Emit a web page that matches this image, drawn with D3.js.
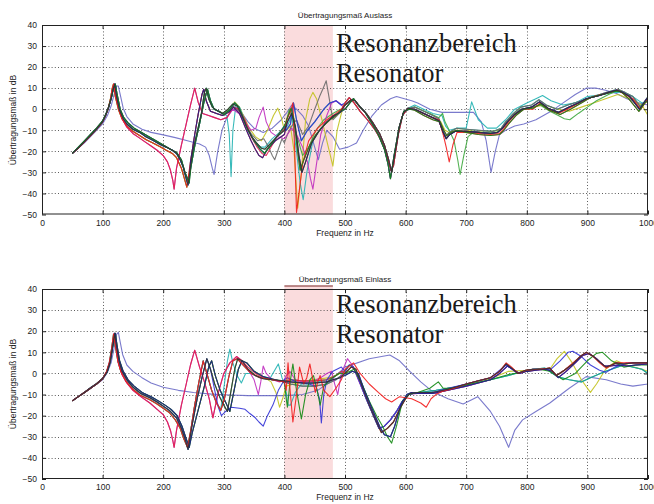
<!DOCTYPE html>
<html><head><meta charset="utf-8">
<script src="https://cdn.jsdelivr.net/npm/d3@7"></script>
<style>
html,body{margin:0;padding:0;background:#fff;}
svg{display:block;}
.tick text{font-family:"Liberation Sans",Arial,sans-serif;}
</style></head>
<body>
<svg id="chart" width="654" height="504"></svg>
<script>
// ---------- axis / labels ----------
const xTicks = [0,100,200,300,400,500,600,700,800,900,1000];
const yTicks = [40,30,20,10,0,-10,-20,-30,-40,-50];
const titleTop = "Übertragungsmaß Auslass";
const titleBottom = "Übertragungsmaß Einlass";
const xLabel = "Frequenz in Hz";
const yLabel = "Übertragungsmaß in dB";
const bandRange = [400, 480];
const bandText = ["Resonanzbereich", "Resonator"];
const colors = {black:"#333333", green:"#138a13", red:"#f21c1c", cyan:"#22b3b3", magenta:"#bf2cbf",
  yellow:"#c2c21e", gray:"#6a6a6a", blue:"#3232d6", lavender:"#6c6cc6", green2:"#3fa83f",
  crimson:"#e3204c", navy:"#1d1d8c", teal:"#1f9c8a"};

// ---------- Top panel (Auslass) segments [Hz, dB] ----------
const lowT1 = [[50,-21],[60,-18.5],[70,-15.5],[80,-12.5],[90,-9.5],[100,-6],[105,-3],[110,1],[114,5],[117,9],[120,12],[123,6],[128,-0.5],[134,-4.5],[140,-7],[150,-9.5],[161,-11],[170,-12.8],[183,-14.8],[195,-16.8],[205,-18],[215,-19.5],[222,-21],[228,-24],[233,-27.5],[238,-33],[241,-36]];
const lowT2 = [[50,-21],[60,-18.5],[70,-15.5],[80,-12.5],[90,-9.5],[100,-6],[104,-3.5],[109,0],[113,5],[116,10],[118,12],[121,6],[126,0],[132,-4.5],[140,-8],[150,-10.5],[161,-12.5],[172,-14.5],[183,-16],[195,-17.8],[205,-19.5],[215,-21],[222,-23],[230,-28],[235,-33],[239,-37]];
const lowT3 = [[50,-21],[60,-18],[70,-15],[80,-12],[90,-9],[100,-5.5],[105,-2.5],[110,1],[115,6],[118,10],[121,12],[124,7],[129,0],[135,-4],[142,-6.5],[152,-9],[163,-10.8],[175,-12.8],[188,-15],[200,-17],[212,-19],[222,-20.5],[230,-24],[236,-30],[243,-35]];
const lowOut = [[50,-21],[60,-18.5],[70,-15.5],[80,-12.5],[90,-9.5],[100,-6],[105,-3],[110,1],[113,4],[116,9],[119,12],[122,6],[127,0],[133,-5],[140,-8.5],[150,-11.5],[160,-13.5],[170,-15.5],[180,-17.5],[190,-19.5],[200,-22],[207,-25],[212,-29],[216,-34],[218,-38],[222,-28],[230,-17],[238,-7],[245,2],[252,10],[258,3],[265,-2],[275,-3],[285,-4],[295,-5],[305,-4]];
const lowBlue = [[50,-21],[60,-18.5],[70,-16],[80,-13],[90,-10],[100,-7],[108,-3],[114,1.5],[119,7],[123,11],[126,11],[129,7],[134,0.5],[140,-3.5],[150,-7],[165,-9.5],[180,-11],[200,-12.2],[220,-13.5],[240,-15],[260,-16.5],[270,-18],[276,-22],[281,-28],[284,-31],[290,-20],[297,-10],[305,-4],[312,-1]];

const midA = [[249,-19.5],[256,-11],[263,-2],[268,8],[271,10],[275,5],[281,1],[288,-0.5],[298,-2],[307,0],[315,2.5],[322,1.5],[330,-3],[337,-8],[346,-13],[354,-16],[362,-18.5],[368,-19],[378,-16],[388,-13],[400,-10]];
const midB = [[246,-27],[253,-16],[260,-7],[267,3],[273,9.5],[278,4],[284,0],[292,-1],[300,-2.5],[309,-0.5],[318,3],[325,1],[333,-5],[340,-10],[350,-15],[360,-19],[367,-21],[375,-18],[390,-12],[400,-8]];
const midC = [[245,-25],[252,-12],[258,-2],[264,7],[267,9.5],[271,4],[278,-1],[288,-2],[298,-3],[308,-1.5],[316,1],[326,-2],[336,-9],[345,-15],[352,-19],[358,-22],[364,-23],[372,-19],[385,-15],[400,-12]];
const midCyan = [[249,-19.5],[256,-11],[263,-2],[268,8],[271,10],[275,5],[281,1],[290,-1],[298,-2],[305,-3],[309,-12],[312,-32],[315,-10],[320,2],[326,1],[334,-5],[342,-11],[352,-16],[360,-18],[368,-18],[380,-14],[392,-11],[400,-9]];
const midYellow = [[246,-27],[253,-16],[260,-7],[267,3],[273,9.5],[278,4],[284,0],[292,-1],[300,-2],[310,0],[318,3.5],[326,1],[334,-4],[342,-9],[352,-13],[362,-15],[372,-10],[382,-3],[389,0.5],[395,-4],[400,-10]];
const midGray = [[245,-25],[252,-12],[258,-2],[264,7],[267,9.5],[271,4],[278,-1],[288,-2],[298,-3],[308,-1],[316,1.5],[326,-1],[336,-7],[346,-12],[356,-15],[366,-14],[374,-18],[380,-22],[384,-24],[390,-19],[396,-14],[400,-16]];
const midOutM = [[315,0],[325,-2],[335,-6],[345,-10],[353,-9],[358,-4],[365,1],[370,-6],[378,-11],[388,-13],[400,-14]];
const midOutR = [[315,1],[325,0],[335,-5],[345,-13],[355,-18],[363,-21],[370,-22],[380,-17],[390,-12],[400,-9]];
const midBlue = [[320,1],[330,-2],[340,-6],[350,-9],[365,-11],[380,-9],[395,-5],[400,-3]];

const bandMain1 = [[405,-4],[411,0.5],[416,-5],[421,-18],[426,-29],[432,-24],[442,-17],[452,-12],[464,-8],[475,-5],[483,-3.5],[492,-1]];
const bandMain2 = [[405,-6],[412,-2],[418,-8],[424,-22],[429,-30],[435,-25],[445,-16],[458,-10],[470,-6],[482,-3],[492,-1.5]];
const bandRed = [[404,-5],[410,-1],[414,3],[417,-20],[420,-49],[424,-40],[430,-26],[440,-15],[455,-9],[470,-5],[485,-2],[494,0]];
const bandYellow = [[403,-10],[410,-8],[416,-20],[422,-47],[428,-30],[435,-5],[442,5],[447,8],[453,5],[462,-5],[470,-15],[480,-27],[487,-10],[494,-2]];
const bandCyan = [[405,-8],[412,-3],[420,-20],[426,-35],[431,-43],[437,-30],[447,-15],[460,-9],[475,-5],[492,-1]];
const bandMagenta = [[405,-12],[412,-9],[420,-12],[430,-18],[438,-25],[443,-33],[447,-38],[452,-28],[460,-12],[470,-3],[478,3],[486,4],[494,2]];
const bandGray = [[405,-12],[412,-8],[420,-5],[430,-12],[440,-8],[450,0],[458,6],[464,10],[469,13.5],[474,5],[480,-5],[487,-3],[494,-1]];
const bandBlue1 = [[403,-2],[412,2],[420,0],[430,-3],[440,-8],[450,-18],[456,-24],[463,-16],[470,-10],[480,-13],[491,-19]];
const bandBlue2 = [[403,-10],[410,-7],[415,3],[420,-5],[428,-15],[438,-10],[450,-6],[465,0],[475,3],[485,4],[494,2]];
const bandGreen2 = [[403,-6],[408,0],[413,-4],[420,-12],[430,-22],[440,-18],[452,-10],[465,-5],[480,-2],[492,0]];

const postA = [[500,2],[510,4.5],[517,4],[525,1],[535,-2],[545,-6],[557,-11.5],[565,-17],[572,-24],[577,-30],[583,-20],[590,-8],[596,-2],[604,0.5]];
const postB = [[500,0],[508,3],[514,5],[522,2],[532,-1],[545,-7],[555,-12],[565,-19],[571,-26],[575,-33],[581,-22],[589,-9],[597,-1],[606,0]];
const postC = [[500,3],[507,5.5],[515,3],[525,-1],[537,-5],[550,-10],[562,-16],[570,-23],[576,-29],[580,-27],[588,-12],[595,-3],[603,0]];
const postLav = [[505,-18],[519,-16],[530,-10],[545,-3],[560,2],[575,5],[585,6],[598,5],[610,4]];

const tailA = [[615,0],[630,-2],[645,-4],[655,-5.5],[662,-11],[667,-14],[673,-12],[682,-10.5],[700,-10.5],[720,-11],[740,-11.5],[752,-11],[760,-9],[768,-6],[780,-2.5],[792,0],[808,1],[821,3.5],[835,0.5],[852,-1.5],[870,1],[885,3],[898,5],[920,6.5],[935,8],[948,9],[958,8],[970,6],[986,0],[998,5],[1000,5]];
const tailB = [[615,-0.5],[630,-3],[645,-5],[657,-6],[663,-10],[668,-12.5],[675,-11],[685,-10],[700,-11],[720,-12],[740,-12.5],[755,-12],[762,-10],[770,-7],[782,-3],[795,0],[810,0.5],[823,2.5],[837,-0.5],[855,-2.5],[872,0],[890,3],[905,5.5],[925,7],[945,8.5],[955,8.5],[968,5],[985,-1],[995,3],[1000,4]];
const tailC = [[615,1],[630,-1],[645,-3],[655,-4.5],[661,-9],[666,-13],[672,-11],[684,-9],[700,-9.5],[720,-10],[745,-10.5],[758,-9],[765,-6],[778,-2],[790,1],[808,2],[820,4.5],[832,2],[850,0],[868,2],[890,4],[910,6],[932,8],[950,9.5],[962,8],[975,6],[988,1],[1000,6]];
const tailRed = [[615,0],[630,-2],[645,-4],[655,-5],[662,-12],[667,-18],[672,-25],[678,-17],[685,-11],[700,-11],[720,-11.5],[740,-12],[755,-11.5],[763,-9],[770,-6],[782,-2],[795,0],[810,0],[822,3],[835,0],[852,-2],[870,0.5],[890,3.5],[910,6],[930,7.5],[950,9],[962,7],[975,5],[988,0],[1000,5]];
const tailCyan = [[615,2],[630,0],[645,-2],[660,-3],[666,-8],[672,-10],[685,-9],[700,-9],[709,3.5],[720,-5],[735,-9],[750,-9],[765,-5],[780,0],[800,3],[815,5],[826,6.5],[840,4],[860,2],[880,3],[900,6],[925,7],[945,8],[960,8],[975,6],[990,3],[1000,4]];
const tailYellow = [[615,0],[630,-2],[645,-4],[658,-6],[665,-10],[672,-11],[685,-10],[700,-10],[730,-11],[755,-10],[770,-5],[790,0],[810,1],[830,2],[850,0],[870,-1],[890,1],[910,3],[930,5],[950,7],[970,5],[990,2],[1000,-3]];
const tailGreen = [[615,1],[640,-2],[655,-4],[661,-2],[665,-6],[672,-10],[680,-15],[686,-24],[690,-31],[696,-22],[703,-13],[712,-11],[730,-11],[750,-11],[762,-8],[775,-3],[790,0],[808,1],[822,2],[838,-1],[852,-3],[862,-4.5],[871,-5],[885,-2],[900,1],[915,4],[935,7],[950,9],[965,7],[985,1],[1000,5]];
const tailLav = [[620,3],[640,0],[660,-1.5],[690,-1.5],[712,-1.5],[725,-6],[733,-15],[741,-30],[748,-20],[755,-12],[765,-10],[780,-8],[795,-7],[815,-5],[840,-1],[860,3],[880,7],[898,10],[915,10],[930,9],[948,7.5],[965,5],[985,3],[1000,2]];

// ---------- Bottom panel (Einlass) segments [Hz, dB] ----------
const lowE1 = [[50,-13],[60,-11],[70,-9],[80,-7],[90,-5],[100,-2.5],[107,0.5],[112,5],[116,12],[120,19],[123,13],[127,6],[132,1],[140,-3],[150,-6.5],[163,-9.5],[178,-11.5],[190,-13.5],[200,-15.5],[210,-17.5],[222,-21],[230,-26],[236,-31],[241,-36]];
const lowE2 = [[50,-13],[60,-11],[70,-9],[80,-7],[90,-5],[100,-2.5],[106,0.5],[111,5],[115,12],[118,18.5],[121,13],[125,6],[130,1],[138,-3.5],[150,-7.5],[163,-10.5],[178,-12.5],[190,-14.5],[200,-16.5],[210,-18.5],[220,-22],[228,-26],[234,-31],[240,-35]];
const lowE3 = [[50,-13],[60,-11],[70,-9],[80,-6.8],[90,-4.8],[100,-2.3],[108,1],[113,6],[117,13],[121,19],[124,13],[128,6],[134,1],[142,-3],[152,-6],[165,-9],[180,-11],[192,-13],[203,-15],[213,-17],[223,-20],[231,-25],[238,-31],[243,-35]];
const lowEOut = [[50,-13],[60,-11],[70,-9],[80,-7],[90,-5],[100,-2.5],[107,1],[112,6],[116,13],[119,19],[122,13],[126,5],[132,-0.5],[140,-4.5],[150,-8],[163,-11],[178,-14],[190,-17],[200,-19.5],[207,-23],[212,-27],[216,-32],[218,-35],[222,-27],[230,-15],[238,-5],[245,4],[252,11],[260,3],[268,-4],[276,-12],[282,-21],[290,-10],[300,0],[310,5],[321,8],[330,6]];
const lowEBlue = [[50,-13],[60,-11],[70,-9],[80,-7],[90,-5],[100,-3],[108,0.5],[114,5],[119,12],[123,18.5],[126,19.5],[129,15],[133,9],[140,4],[150,1],[165,-2],[180,-4.5],[200,-6.5],[225,-8],[250,-9],[280,-9.8],[310,-10.2],[340,-10.5],[370,-10.5],[400,-10.5],[430,-10],[455,-8],[470,-5],[500,3],[540,7],[574,8.7],[590,6],[607,1],[625,-4],[645,-8.7],[670,-12],[695,-14.5],[719,-11],[740,-18],[755,-25],[770,-35],[780,-27],[793,-22],[815,-18],[838,-14],[870,-7],[898,-1.5],[931,-3],[955,-5],[975,-6],[1000,-5]];

const midE1 = [[248,-24],[256,-12],[264,-2],[272,7],[278,2],[285,-5],[293,-11],[300,-15],[306,-18],[312,-8],[318,2],[323,7],[330,6],[340,2],[352,-1],[365,-2.5],[380,-3],[400,-3.5]];
const midE2 = [[246,-26],[252,-15],[259,-4],[266,6],[272,0],[280,-8],[288,-14],[295,-17.5],[301,-12],[308,-2],[315,6],[322,7],[332,4],[345,0],[360,-2],[380,-3],[400,-4]];
const midE3 = [[248,-28],[258,-17],[268,-6],[275,3],[280,6],[286,-1],[294,-8],[302,-13],[310,-18],[317,-8],[324,2],[330,6],[338,5],[350,1],[365,-1.5],[385,-3],[400,-4]];
const midECyan = [[246,-26],[252,-15],[259,-4],[266,6],[272,0],[280,-8],[288,-14],[295,-17],[301,-5],[306,6],[310,11.5],[315,5],[322,-1],[329,-4.5],[336,0],[345,0],[360,-2],[375,-3],[390,4.5],[396,-2],[400,-5]];
const midEYellow = [[248,-28],[258,-17],[268,-6],[275,3],[280,6],[286,-1],[294,-8],[302,-13],[310,-18],[317,-8],[324,2],[330,6],[338,5],[350,1],[365,-1.5],[378,-4],[386,-9],[392,-16],[397,-12]];
const midEOutM = [[340,2],[350,-3],[357,-10],[361,-4],[365,3.5],[370,0],[380,-3],[392,-4],[400,-3]];
const midEOutR = [[340,3],[352,0],[365,-2],[380,-3],[400,-4]];
const midEBlueDip = [[248,-24],[256,-12],[264,-2],[272,7],[278,2],[285,-8],[291,-16],[296,-20],[303,-18],[312,-16],[326,-16.5],[335,-17],[343,-19],[352,-21],[358,-23],[365,-25],[372,-20],[381,-15],[390,-8],[400,-3]];

const bandE1 = [[410,-4],[430,-4.5],[450,-4.5],[470,-4],[480,-3],[492,-2]];
const bandE2 = [[410,-3],[430,-3.5],[450,-3.5],[470,-3],[485,-1],[494,1]];
const bandE3 = [[410,-5],[430,-6],[450,-6],[470,-5],[485,-3],[494,-1]];
const bandERed = [[403,-8],[406,5],[410,-10],[414,-23],[420,-10],[425,3],[432,-5],[437,-2],[442,4.5],[447,-3],[451,-9],[455,-4],[459,-1],[465,-8],[475,-11],[485,-7],[494,-3]];
const bandEGreen = [[403,-12],[405,-16],[409,-5],[414,4.5],[420,-8],[428,-21.5],[435,-10],[442,-3],[448,-1],[454,-8],[459,-15],[465,-6],[475,-3],[490,0]];
const bandEBlue = [[405,-2],[420,-4],[440,-5],[452,-6],[458,-12],[461,-23.5],[465,-10],[470,-3],[480,1],[494,3]];
const bandEMag = [[403,-1],[409,1],[418,-3],[430,-4],[445,-4],[460,-2],[470,0],[478,1],[483,-5],[488,-10],[494,0]];
const bandECyan = [[403,-9],[406,-15],[410,-15],[418,-9],[428,-5],[440,-5],[455,-4],[470,-3],[485,-1],[494,1]];
const bandEYellow = [[403,-6],[415,-5],[430,-4],[445,-3],[460,-2.5],[475,-2],[492,0]];

const postE1 = [[500,0],[510,3],[518,2],[528,-6],[540,-15],[552,-23],[560,-28],[570,-26],[580,-23],[590,-17],[600,-12],[607,-9.5]];
const postE2 = [[500,1],[507,4],[514,3],[524,-4],[535,-12],[547,-20],[556,-26],[565,-25],[575,-22],[585,-18],[595,-13],[605,-10]];
const postE3 = [[500,-1],[512,1],[522,0],[532,-8],[545,-17],[557,-25],[565,-29],[575,-30],[582,-25],[592,-15],[602,-10],[610,-9]];
const postERed = [[500,2],[514,5],[525,0],[540,-5],[555,-9],[567,-12],[577,-13.5],[590,-11],[610,-12],[625,-14],[634,-16],[642,-12],[650,-10],[660,-8.5]];
const postEGreen = [[500,0],[515,2],[528,-5],[540,-13],[552,-20],[562,-25],[570,-30],[577,-33],[585,-25],[595,-13],[605,-10]];
const postEMag = [[504,7],[512,4],[522,-3],[535,-12],[547,-20],[556,-26],[565,-25],[575,-22],[585,-18],[595,-13],[605,-10]];

const tailE1 = [[620,-9],[645,-9],[670,-7.5],[700,-5],[720,-3.5],[740,-2],[755,1],[766,4.5],[775,2.5],[785,0],[798,1.5],[810,2],[825,2],[838,2.5],[849,-1],[862,1.5],[876,4.5],[888,8],[898,10],[910,8],[920,5.5],[931,3],[940,4],[947,5],[960,4.5],[975,5],[1000,5]];
const tailE2 = [[620,-9.5],[645,-9.5],[670,-8],[700,-6],[720,-4.5],[740,-3],[755,0],[768,3.5],[777,2],[788,0],[800,1],[815,1.5],[830,2],[842,1],[852,-2],[865,1],[880,5],[892,8.5],[903,9.5],[915,7],[928,3.5],[938,3.5],[950,4],[965,3.5],[980,4],[1000,4.5]];
const tailESmooth = [[620,-9],[650,-8],[680,-6.5],[710,-5],[740,-3],[770,-1],[795,1],[810,2],[830,2.5],[850,-1.5],[870,-3],[890,-4],[905,-2],[930,1],[960,4],[990,2],[1000,0]];
const tailEYellow = [[620,-9],[645,-9],[670,-7.5],[700,-5.5],[740,-2.5],[770,1],[800,1.5],[820,2],[838,2],[850,7],[862,10.5],[875,5],[890,-3],[905,-9],[915,-5],[930,2],[948,6],[965,4],[990,2],[1000,1]];
const tailEBlue2 = [[620,-9],[645,-9],[670,-7],[700,-5],[740,-2],[766,4],[785,0],[810,2],[840,2],[855,6],[868,10],[876,10.5],[890,8],[905,4],[920,1.5],[931,0.5],[945,3],[965,5],[1000,5]];
const tailEGreen = [[620,-9],[640,-7],[654,-4],[662,-7],[680,-7],[700,-5.5],[740,-3],[770,-0.5],[800,1],[820,2],[838,1],[860,-3],[880,0],[900,6],[915,9.5],[925,10],[940,6],[960,3],[980,4],[1000,4]];
const tailERed = [[680,-7],[700,-5],[720,-3.5],[740,-2],[755,1],[766,5],[775,3],[785,0],[800,1.5],[820,2],[838,2.5],[849,-1],[862,1.5],[876,5],[888,8],[898,10],[910,8],[920,5],[931,2.5],[947,5],[975,5],[1000,5]];

// ---------- series (colour, segments) ----------
const topSeries = [
  {c:"lavender", segs:[lowBlue, midBlue, bandBlue1, postLav, tailLav]},
  {c:"yellow",   segs:[lowT2, midYellow, bandYellow, postC, tailYellow]},
  {c:"cyan",     segs:[lowT1, midCyan, bandCyan, postA, tailCyan]},
  {c:"teal",     segs:[lowT1, midB, bandBlue2, postA, tailC]},
  {c:"green2",   segs:[lowT2, midA, bandGreen2, postB, tailGreen]},
  {c:"gray",     segs:[lowT3, midGray, bandGray, postA, tailC]},
  {c:"magenta",  segs:[lowOut, midOutM, bandMagenta, postB, tailA]},
  {c:"crimson",  segs:[lowOut, midOutR, bandMain1, postA, tailB]},
  {c:"blue",     segs:[lowT1, midB, bandBlue2, postC, tailA]},
  {c:"red",      segs:[lowT2, midC, bandRed, postC, tailRed]},
  {c:"navy",     segs:[lowT3, midC, bandMain2, postB, tailA]},
  {c:"green",    segs:[lowT3, midB, bandMain1, postB, tailB]},
  {c:"black",    segs:[lowT1, midA, bandMain2, postA, tailA]}
];
const bottomSeries = [
  {c:"lavender", segs:[lowEBlue]},
  {c:"yellow",   segs:[lowE1, midEYellow, bandEYellow, postE1, tailEYellow]},
  {c:"cyan",     segs:[lowE2, midECyan, bandECyan, postE3, tailESmooth]},
  {c:"teal",     segs:[lowE1, midE2, bandE3, postE2, tailESmooth]},
  {c:"green2",   segs:[lowE2, midE1, bandE2, postE2, tailE1]},
  {c:"gray",     segs:[lowE3, midE2, bandE3, postE3, tailE2]},
  {c:"magenta",  segs:[lowEOut, midEOutM, bandEMag, postEMag, tailE2]},
  {c:"crimson",  segs:[lowEOut, midEOutR, bandE2, postE1, tailE1]},
  {c:"blue",     segs:[lowE1, midEBlueDip, bandEBlue, postE2, tailEBlue2]},
  {c:"green",    segs:[lowE3, midE3, bandEGreen, postEGreen, tailEGreen]},
  {c:"navy",     segs:[lowE3, midE3, bandE1, postE3, tailE2]},
  {c:"red",      segs:[lowE2, midE2, bandERed, postERed, tailERed]},
  {c:"black",    segs:[lowE1, midE1, bandE1, postE1, tailE1]}
];

// ---------- drawing ----------
const svg = d3.select("#chart");
const x = d3.scaleLinear().domain([0,1000]).range([42,648]);
const FONT = '"Liberation Sans", Arial, Helvetica, sans-serif';

function panel(id, y, series, title, titleY, xLabY, yLabCY, bandTopExtra, textBase){
  const g = svg.append("g");
  const [y0, y1] = [y(40), y(-50)];
  const [x0, x1] = [x(0), x(1000)];
  g.append("clipPath").attr("id","clip"+id).append("rect")
    .attr("x",x0).attr("y",y0).attr("width",x1-x0).attr("height",y1-y0);
  // band
  g.append("rect").attr("x",x(bandRange[0])).attr("y",y0-bandTopExtra)
    .attr("width",x(bandRange[1])-x(bandRange[0])).attr("height",y1-y0+bandTopExtra)
    .attr("fill","#fadcdd");
  if(bandTopExtra>0){
    g.append("line").attr("x1",x(bandRange[0])).attr("x2",x(bandRange[1]))
      .attr("y1",y0-bandTopExtra+0.5).attr("y2",y0-bandTopExtra+0.5)
      .attr("stroke","#7a2a2a").attr("stroke-width",1);
  }
  // grid
  const grid = g.append("g").attr("stroke","#333").attr("stroke-width",0.8).attr("stroke-dasharray","1,2.2");
  xTicks.slice(1,-1).forEach(t=>grid.append("line").attr("x1",Math.round(x(t))+0.5).attr("x2",Math.round(x(t))+0.5).attr("y1",y0).attr("y2",y1));
  yTicks.slice(1,-1).forEach(t=>grid.append("line").attr("y1",Math.round(y(t))+0.5).attr("y2",Math.round(y(t))+0.5).attr("x1",x0).attr("x2",x1));
  // lines
  const line = d3.line().x(d=>x(d[0])).y(d=>y(d[1]));
  const lg = g.append("g").attr("clip-path","url(#clip"+id+")");
  series.forEach(s=>{
    const pts = [].concat(...s.segs);
    lg.append("path").attr("d",line(pts)).attr("fill","none")
      .attr("stroke",colors[s.c]).attr("stroke-width",1.1).attr("stroke-opacity",0.9)
      .attr("stroke-linejoin","round");
  });
  // frame
  g.append("rect").attr("x",x0+0.5).attr("y",y0+0.5).attr("width",x1-x0-1).attr("height",y1-y0-1)
    .attr("fill","none").attr("stroke","#222").attr("stroke-width",1);
  // axes (ticks inward)
  const ax = g.append("g").attr("transform",`translate(0,${y1})`)
    .call(d3.axisBottom(x).tickValues(xTicks).tickSize(-4).tickPadding(5).tickFormat(d3.format("d")));
  const axT = g.append("g").attr("transform",`translate(0,${y0})`)
    .call(d3.axisTop(x).tickValues(xTicks).tickSize(-4).tickFormat(""));
  const ay = g.append("g").attr("transform",`translate(${x0},0)`)
    .call(d3.axisLeft(y).tickValues(yTicks).tickSize(-4).tickPadding(5).tickFormat(d3.format("d")));
  const ayR = g.append("g").attr("transform",`translate(${x1},0)`)
    .call(d3.axisRight(y).tickValues(yTicks).tickSize(-4).tickFormat(""));
  [ax,axT,ay,ayR].forEach(a=>{
    a.select(".domain").remove();
    a.selectAll("line").attr("stroke","#222");
    a.selectAll("text").attr("font-size","8.5px").attr("font-family",FONT).attr("fill","#222");
  });
  // titles
  g.append("text").attr("x",(x0+x1)/2).attr("y",titleY).attr("text-anchor","middle")
    .attr("font-size","8px").attr("font-family",FONT).attr("fill","#222").text(title);
  g.append("text").attr("x",(x0+x1)/2).attr("y",xLabY).attr("text-anchor","middle")
    .attr("font-size","8.5px").attr("font-family",FONT).attr("fill","#222").text(xLabel);
  g.append("text").attr("transform",`translate(15.5,${yLabCY}) rotate(-90)`).attr("text-anchor","middle")
    .attr("font-size","8.5px").attr("font-family",FONT).attr("fill","#222").text(yLabel);
  // band annotation
  bandText.forEach((t,i)=>{
    g.append("text").attr("x",x(bandRange[1])+3).attr("y",textBase+i*30)
      .attr("font-family",'"Liberation Serif","Times New Roman",serif').attr("font-size","26.5px")
      .attr("fill","#1a1a1a").text(t);
  });
}

const yTop = d3.scaleLinear().domain([-50,40]).range([214.5,25]);
const yBot = d3.scaleLinear().domain([-50,40]).range([479,289]);
panel("T", yTop, topSeries, titleTop, 18, 236, 120, 0, 52);
panel("B", yBot, bottomSeries, titleBottom, 282, 500, 384, 3.5, 313);
</script>
</body></html>
